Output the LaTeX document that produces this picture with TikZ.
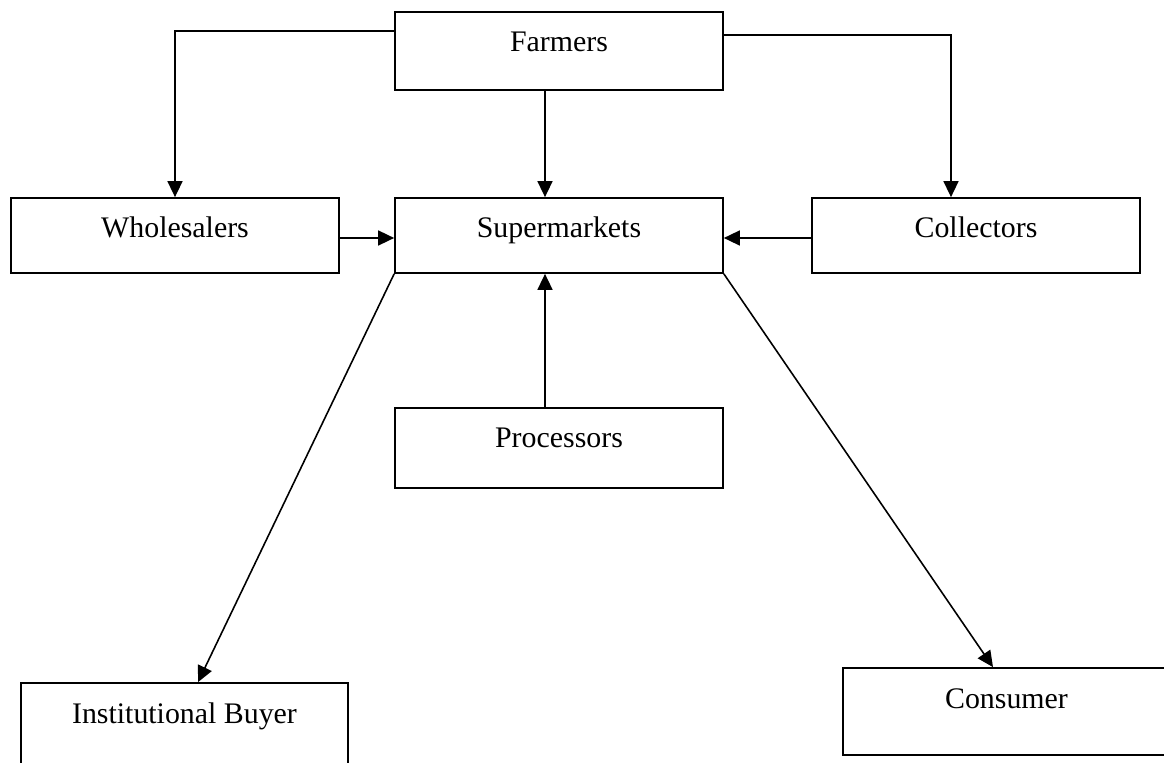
\documentclass[tikz,border=0pt]{standalone}
\usepackage{fontspec}
\setmainfont{Liberation Serif}
\usetikzlibrary{arrows.meta, calc}

\begin{document}
\begin{tikzpicture}[x=0.02cm, y=-0.02cm,
    every node/.style={font=\fontsize{17}{20}\selectfont},
    box/.style={draw, line width=1pt, minimum width=6.56cm, inner xsep=0pt, inner ysep=0pt, text height=0.8cm},
    flow/.style={-{Triangle[length=0.32cm, width=0.3cm]}, line width=0.9pt}
]

% ---------------- canvas ----------------
\useasboundingbox (0,0) rectangle (1164,763);
\clip (0,0) rectangle (1164,763);

% ---------------- boxes ----------------
\node[box, text depth=0.76cm] (Farmers) at (559,51) {Farmers};
\node[box, text depth=0.70cm] (Supermarkets) at (559,235.5) {Supermarkets};
\node[box, text depth=0.70cm] (Wholesalers) at (175,235.5) {Wholesalers};
\node[box, text depth=0.70cm] (Collectors) at (976,235.5) {Collectors};
\node[box, text depth=0.80cm] (Processors) at (559,448) {Processors};
\node[box, text depth=1.20cm, minimum width=6.54cm] (Institutional) at (184.5,733) {Institutional Buyer};
\node[box, text depth=0.94cm, minimum width=6.54cm] (Consumer) at (1006.5,711.5) {Consumer};

% ---------------- flows into supermarkets ----------------
\draw[flow] ([yshift=-0.4cm]Farmers.north west) -| (Wholesalers.north);
\draw[flow] ([yshift=-0.48cm]Farmers.north east) -| ([xshift=-0.5cm]Collectors.north);
\draw[flow] ([xshift=-0.28cm]Farmers.south) -- ([xshift=-0.28cm]Supermarkets.north);
\draw[flow] ([yshift=-0.05cm]Wholesalers.east) -- ([yshift=-0.05cm]Supermarkets.west);
\draw[flow] ([yshift=-0.05cm]Collectors.west) -- ([yshift=-0.05cm]Supermarkets.east);
\draw[flow] ([xshift=-0.28cm]Processors.north) -- ([xshift=-0.28cm]Supermarkets.south);

% ---------------- flows out of supermarkets ----------------
\draw[flow] (Supermarkets.south west) -- ([xshift=0.27cm]Institutional.north);
\draw[flow] (Supermarkets.south east) -- ([xshift=-0.27cm]Consumer.north);

\end{tikzpicture}
\end{document}
